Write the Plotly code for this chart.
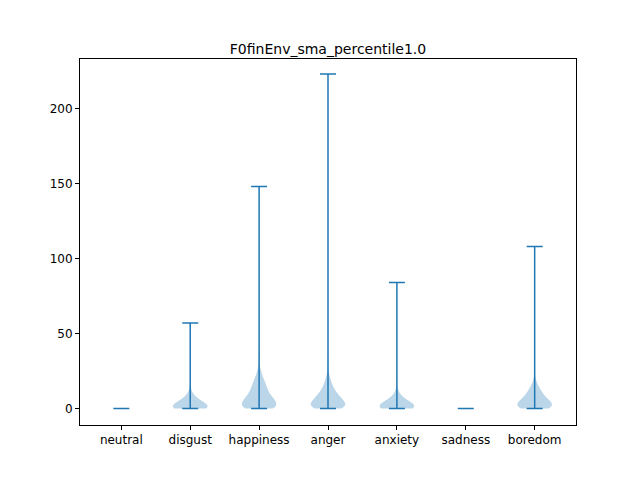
import numpy as np
import plotly.graph_objects as go

categories = ['neutral', 'disgust', 'happiness', 'anger', 'anxiety', 'sadness', 'boredom']
mins = [0, 0, 0, 0, 0, 0, 0]
maxs = [0, 57, 148, 223, 84, 0, 108]

# approximate sample distributions (value, count) read from violin shapes
sample_values = {
    'disgust':   [0, 1, 2, 4, 6, 8, 10, 14, 57],
    'anger':     [0, 2, 4, 7, 10, 14, 18, 22, 30, 223],
    'happiness': [0, 2, 5, 8, 12, 16, 20, 25, 35, 148],
    'anxiety':   [0, 1, 2, 4, 6, 8, 10, 14, 84],
    'boredom':   [0, 2, 4, 7, 10, 13, 16, 20, 108],
}
sample_counts = {
    'disgust':   [60, 50, 40, 30, 20, 12, 6, 2, 1],
    'anger':     [35, 38, 36, 32, 26, 18, 10, 5, 2, 1],
    'happiness': [35, 38, 36, 32, 26, 20, 14, 7, 2, 1],
    'anxiety':   [55, 50, 42, 32, 22, 12, 6, 2, 1],
    'boredom':   [40, 42, 38, 30, 22, 14, 8, 3, 1],
}

blue = '#1f77b4'
fig = go.Figure()

for name in categories:
    if name not in sample_values:
        continue
    y = np.repeat(sample_values[name], sample_counts[name])
    fig.add_trace(go.Violin(
        x=[name] * len(y), y=y, spanmode='hard', bandwidth=3,
        width=0.5, scalemode='width', points=False,
        fillcolor='rgba(31,119,180,0.3)', line=dict(width=0),
        hoveron='violins', showlegend=False,
    ))

fig.add_trace(go.Scatter(
    x=categories, y=mins, mode='markers', marker=dict(size=0.1, color=blue),
    error_y=dict(type='data', symmetric=False,
                 array=[mx - mn for mx, mn in zip(maxs, mins)],
                 arrayminus=[0] * len(mins),
                 color=blue, thickness=1.5, width=8),
    showlegend=False,
))

axis_common = dict(showline=True, linecolor='black', linewidth=1, mirror=True,
                   ticks='outside', ticklen=4, tickcolor='black',
                   showgrid=False, zeroline=False)
fig.update_layout(
    width=640, height=480,
    margin=dict(l=72, r=72, t=51, b=63),
    plot_bgcolor='white', paper_bgcolor='white',
    font=dict(family='DejaVu Sans', size=12, color='black'),
    title=dict(text='F0finEnv_sma_percentile1.0', x=0.5, xanchor='center',
               y=0.905, yanchor='bottom', font=dict(size=14)),
    xaxis=dict(range=[-0.6, 6.6], type='category', categoryorder='array',
               categoryarray=categories, **axis_common),
    yaxis=dict(range=[-11, 233], tickvals=[0, 50, 100, 150, 200], **axis_common),
    violinmode='overlay',
)

fig.write_html("out.html")
